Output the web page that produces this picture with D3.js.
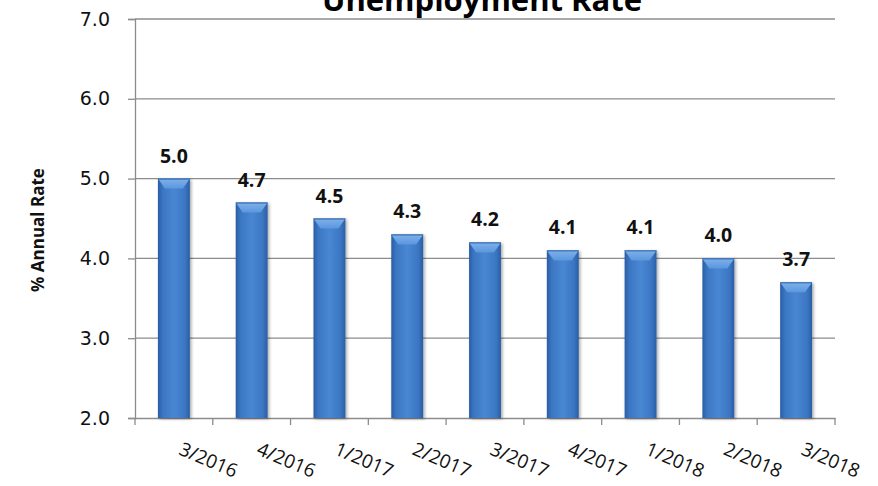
<!DOCTYPE html>
<html>
<head>
<meta charset="utf-8">
<script src="https://cdn.jsdelivr.net/npm/d3@7"></script>
<style>
  html, body { margin: 0; padding: 0; background: #fff; }
  svg { display: block; }
</style>
</head>
<body>
<svg id="chart" width="878" height="486"></svg>
<script>
// Quarterly unemployment rate
const quarters = ["3/2016", "4/2016", "1/2017", "2/2017", "3/2017", "4/2017", "1/2018", "2/2018", "3/2018"];
const rates = [5.0, 4.7, 4.5, 4.3, 4.2, 4.1, 4.1, 4.0, 3.7];
const yTicks = [2.0, 3.0, 4.0, 5.0, 6.0, 7.0];
const titleText = "Unemployment Rate";
const yAxisTitle = "% Annual Rate";

const svg = d3.select("#chart");
const margin = { left: 135, right: 43, top: 19, bottom: 68 };
const W = 878, H = 486;

const x = d3.scaleBand()
  .domain(quarters)
  .range([margin.left, W - margin.right])
  .paddingInner(0.59)
  .paddingOuter(0.295);

const y = d3.scaleLinear()
  .domain([2, 7])
  .range([H - margin.bottom, margin.top]);

// Bar fill: cylinder-like horizontal gradient
const defs = svg.append("defs");
const grad = defs.append("linearGradient").attr("id", "barGrad")
  .attr("x1", "0%").attr("x2", "100%").attr("y1", "0%").attr("y2", "0%");
[[0, "#2a5da2"], [0.15, "#3b76c3"], [0.5, "#4987d3"], [0.85, "#3b76c3"], [1, "#2a5da2"]]
  .forEach(([o, c]) => grad.append("stop").attr("offset", o).attr("stop-color", c));
const bevel = defs.append("linearGradient").attr("id", "bevelGrad")
  .attr("x1", "0%").attr("x2", "0%").attr("y1", "0%").attr("y2", "100%");
bevel.append("stop").attr("offset", 0).attr("stop-color", "#80b1ea");
bevel.append("stop").attr("offset", 1).attr("stop-color", "#5a97dd");
const shadow = defs.append("filter").attr("id", "shadow")
  .attr("x", "-30%").attr("y", "-10%").attr("width", "160%").attr("height", "120%");
shadow.append("feDropShadow").attr("dx", 1.5).attr("dy", 1).attr("stdDeviation", 1.5)
  .attr("flood-color", "#000").attr("flood-opacity", 0.35);

// Gridlines
const grid = svg.append("g");
grid.selectAll("line").data(yTicks.filter(d => d > 2)).join("line")
  .attr("x1", margin.left).attr("x2", W - margin.right)
  .attr("y1", d => y(d)).attr("y2", d => y(d))
  .attr("stroke", "#8c8c8c").attr("stroke-width", 1.3);

// Y axis
const yAxis = svg.append("g")
  .attr("transform", `translate(${margin.left},0)`)
  .call(d3.axisLeft(y).tickValues(yTicks).tickFormat(d3.format(".1f")).tickSize(7).tickPadding(18));
yAxis.select(".domain").attr("stroke", "#8c8c8c").attr("stroke-width", 1.3);
yAxis.selectAll(".tick line").attr("stroke", "#8c8c8c").attr("stroke-width", 1.3);
yAxis.selectAll(".tick text")
  .attr("font-family", "'DejaVu Sans', sans-serif").attr("font-size", 19).attr("fill", "#111");

// X axis
const xAxis = svg.append("g")
  .attr("transform", `translate(0,${y(2)})`)
  .call(d3.axisBottom(x).tickSizeOuter(0).tickSize(0).tickFormat(""));
xAxis.select(".domain").attr("stroke", "#8c8c8c").attr("stroke-width", 1.3);
const step = x.step();
const boundaries = d3.range(quarters.length + 1).map(i => margin.left + i * step);
xAxis.append("g").selectAll("line").data(boundaries).join("line")
  .attr("x1", d => d).attr("x2", d => d).attr("y1", 0).attr("y2", 7)
  .attr("stroke", "#8c8c8c").attr("stroke-width", 1.3);

xAxis.append("g").selectAll("text").data(quarters).join("text")
  .attr("transform", d => `translate(${x(d) + x.bandwidth() / 2 + 32},${48}) rotate(23)`)
  .attr("text-anchor", "middle")
  .attr("font-family", "'Open Sans', sans-serif").attr("font-size", 19).attr("fill", "#111")
  .text(d => d);

// Bars
const bars = svg.append("g");
const bw = x.bandwidth();
quarters.forEach((q, i) => {
  const g = bars.append("g");
  const x0 = x(q), y0 = y(rates[i]), y1 = y(2);
  g.append("rect")
    .attr("x", x0).attr("y", y0).attr("width", bw).attr("height", y1 - y0)
    .attr("fill", "url(#barGrad)").attr("filter", "url(#shadow)");
  // top bevel
  g.append("path")
    .attr("d", `M${x0},${y0} L${x0 + bw},${y0} L${x0 + bw * 0.78},${y0 + 10} L${x0 + bw * 0.22},${y0 + 10} Z`)
    .attr("fill", "url(#bevelGrad)");
  g.append("line")
    .attr("x1", x0).attr("x2", x0 + bw).attr("y1", y0 + 0.5).attr("y2", y0 + 0.5)
    .attr("stroke", "#2e63a8").attr("stroke-width", 1);
});

// Value labels
svg.append("g").selectAll("text").data(rates).join("text")
  .attr("x", (d, i) => x(quarters[i]) + bw / 2)
  .attr("y", d => y(d) - 16)
  .attr("text-anchor", "middle")
  .attr("font-family", "'Open Sans', sans-serif").attr("font-weight", "bold")
  .attr("font-size", 19.5).attr("fill", "#111")
  .text(d => d3.format(".1f")(d));

// Y axis title
svg.append("text")
  .attr("transform", `translate(44,230) rotate(-90)`)
  .attr("text-anchor", "middle")
  .attr("font-family", "'Open Sans', sans-serif").attr("font-weight", "bold")
  .attr("font-size", 17).attr("fill", "#111")
  .text(yAxisTitle);

// Chart title (partly above the top edge)
svg.append("text")
  .attr("x", 482).attr("y", 11)
  .attr("text-anchor", "middle")
  .attr("font-family", "'Open Sans', sans-serif").attr("font-weight", "bold")
  .attr("font-size", 31).attr("fill", "#000")
  .text(titleText);
</script>
</body>
</html>
